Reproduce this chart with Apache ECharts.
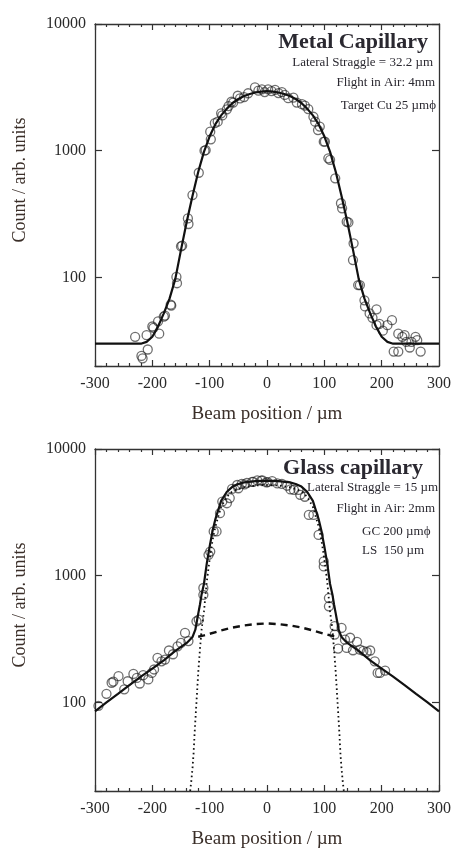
<!DOCTYPE html>
<html>
<head>
<meta charset="utf-8">
<script src="https://cdn.jsdelivr.net/npm/echarts@6/dist/echarts.min.js"></script>
<style>
html, body { margin: 0; padding: 0; background: #fff; }
#chart { width: 454px; height: 850px; }
</style>
</head>
<body>
<div id="chart"></div>
<script>
// ---- Metal capillary (top panel) ----
var metalX = [-230,-219,-217,-210,-208,-200,-198,-190,-188,-180,-178,-168,-167,-158,-157,-150,-148,-138,-137,-130,-119,-109,-107,-99,-98,-91,-86,-80,-78,-70,-67,-62,-59,-51,-47,-40,-33,-21,-15,-9,-4,2,8,14,20,26,31,37,46,52,61,66,72,81,84,89,92,99,101,107,110,119,129,131,139,142,150,151,159,162,170,171,179,184,191,191,196,202,210,218,221,229,229,236,240,243,249,252,259,262,268];
var metalY = [34,24,23,35,27,41,40,45,36,49,50,61,60,101,90,176,178,292,264,447,670,1000,1010,1413,1230,1650,1695,1973,1900,2122,2250,2435,2400,2716,2588,2650,2840,3165,2977,3050,2900,3050,2950,3020,2850,2900,2754,2600,2620,2400,2330,2270,2130,1853,1695,1455,1550,1178,1178,871,846,605,385,351,275,272,137,186,87,87,66,59,52,48,56,42,43,38,42,46,26,26,36,34,35,31,28,31,34,32,26];
var metalFitX = [-300,-220,-210,-200,-190,-180,-170,-160,-150,-140,-130,-120,-110,-100,-90,-80,-70,-60,-50,-40,-30,-20,-10,0,10,20,30,40,50,60,70,80,90,100,110,120,130,140,150,160,170,180,190,200,210,220,300];
var metalFitY = [30,30,31,34,41,52,68,97,165,275,440,680,980,1300,1620,1900,2150,2380,2560,2700,2800,2880,2930,2950,2930,2880,2800,2700,2560,2380,2150,1900,1620,1300,980,680,440,275,165,97,68,52,41,34,31,30,30];

// ---- Glass capillary (bottom panel) ----
var glassX = [-294,-280,-271,-268,-259,-249,-243,-233,-227,-222,-216,-207,-201,-197,-191,-184,-178,-171,-164,-156,-150,-143,-137,-123,-119,-111,-111,-102,-99,-93,-88,-82,-78,-70,-65,-61,-52,-50,-44,-39,-35,-26,-24,-17,-10,-8,-1,1,9,18,26,35,41,47,55,58,66,73,81,90,99,99,108,108,118,118,124,130,136,139,145,150,157,162,168,174,180,188,193,197,206];
var glassY = [94,117,143,146,161,127,147,168,156,141,164,152,171,182,225,211,218,257,240,277,295,354,305,437,450,706,800,1463,1550,2235,2235,3118,3850,3733,4100,4840,5200,4900,5300,5250,5400,5500,5500,5650,5620,5650,5450,5480,5580,5350,5300,5130,4800,4750,4750,4350,4200,3020,3020,2100,1297,1183,666,573,400,343,266,387,313,269,324,258,300,261,255,250,257,211,171,171,178];
var glassFitX = [-300,-280,-260,-240,-220,-200,-180,-160,-140,-130,-125,-122,-120,-117,-114,-110,-105,-100,-95,-90,-80,-70,-60,-50,-40,-20,0,20,40,50,60,70,80,90,95,100,105,110,114,117,120,122,125,130,140,160,180,200,220,240,260,280,300];
var glassFitY = [85,100,117,137,160,185,215,255,295,328,375,445,500,590,715,860,1250,1700,2250,2800,3900,4600,5050,5300,5450,5580,5620,5580,5450,5300,5050,4600,3900,2800,2250,1700,1250,860,715,590,500,445,375,328,295,255,215,185,160,137,117,100,85];
var glassNarrowX = [-134,-132,-130,-128,-126,-124,-122,-120,-117,-114,-110,-105,-100,-95,-90,-80,-70,-60,-40,-20,0,20,40,60,70,80,90,95,100,105,110,114,117,120,122,124,126,128,130,132,134];
var glassNarrowY = [20,24,30,40,60,85,120,170,260,380,520,900,1350,1900,2450,3500,4200,4650,5000,5150,5200,5150,5000,4650,4200,3500,2450,1900,1350,900,520,380,260,170,120,85,60,40,30,24,20];
var glassBroadX = [-120,-110,-100,-80,-60,-40,-20,0,20,40,60,80,100,110,120];
var glassBroadY = [330,338,348,370,390,405,415,420,415,405,390,370,348,338,330];

var yTickLabels = [100, 1000, 10000];

function zip(xs, ys) {
    return xs.map(function (x, i) { return [x, ys[i]]; });
}

var serif = "'Liberation Serif', 'DejaVu Serif', serif";
var inkColor = '#2a2a2a';
var titleColor = '#3a2e28';
var frameColor = '#333';

function xAxisFor(grid, pos) {
    var bottom = pos === 'bottom';
    return {
        type: 'value', gridIndex: grid, position: pos,
        min: -300, max: 300, interval: 100,
        name: bottom ? 'Beam position / \u00b5m' : '',
        nameLocation: 'middle', nameGap: 39,
        nameTextStyle: { fontFamily: serif, fontSize: 19, color: titleColor },
        axisLine: { show: true, onZero: false, lineStyle: { color: frameColor, width: 1.3 } },
        axisTick: { show: true, inside: true, length: 6, lineStyle: { color: frameColor, width: 1.2 } },
        minorTick: { show: true, splitNumber: 5, length: 3, lineStyle: { color: frameColor, width: 1.2 } },
        axisLabel: { show: bottom, margin: 10, fontFamily: serif, fontSize: 16, color: inkColor },
        splitLine: { show: false }
    };
}

function yAxisFor(grid, pos) {
    var left = pos === 'left';
    return {
        type: 'log', logBase: 10, gridIndex: grid, position: pos,
        min: 20, max: 10000,
        axisLine: { show: true, onZero: false, lineStyle: { color: frameColor, width: 1.3 } },
        axisTick: { show: true, inside: true, length: 7, lineStyle: { color: frameColor, width: 1.2 } },
        minorTick: { show: false },
        axisLabel: {
            show: left, margin: 9, fontFamily: serif, fontSize: 16, color: inkColor,
            formatter: function (v) {
                var r = Math.round(v);
                return yTickLabels.indexOf(r) >= 0 ? String(r) : '';
            }
        },
        splitLine: { show: false }
    };
}

function scatterSeries(xi, yi, data) {
    return {
        type: 'scatter', xAxisIndex: xi, yAxisIndex: yi, data: data,
        symbol: 'circle', symbolSize: 9, silent: true,
        itemStyle: { color: 'rgba(0,0,0,0)', borderColor: 'rgba(30,30,30,0.8)', borderWidth: 1.3 },
        z: 2
    };
}

function lineSeries(xi, yi, data, width, type) {
    return {
        type: 'line', xAxisIndex: xi, yAxisIndex: yi, data: data,
        showSymbol: false, smooth: false, silent: true,
        lineStyle: { color: '#111', width: width, type: type },
        z: 3
    };
}

function label(x, y, text, size, bold, align) {
    return {
        type: 'text', x: x, y: y, silent: true,
        style: {
            text: text, fill: '#2a2830',
            font: (bold ? 'bold ' : '') + size + 'px ' + serif,
            textAlign: align || 'right', textVerticalAlign: 'middle',
            align: align || 'right', verticalAlign: 'middle'
        }
    };
}

function yName(x, y) {
    return {
        type: 'text', x: x, y: y, rotation: Math.PI / 2, silent: true,
        style: {
            text: 'Count / arb. units', fill: titleColor,
            font: '18px ' + serif,
            textAlign: 'center', textVerticalAlign: 'middle',
            align: 'center', verticalAlign: 'middle'
        }
    };
}

var chart = echarts.init(document.getElementById('chart'), null, { renderer: 'canvas' });

chart.setOption({
    animation: false,
    backgroundColor: '#fff',
    grid: [
        { left: 95, top: 24, width: 344, height: 342 },
        { left: 95, top: 449, width: 344, height: 344 }
    ],
    xAxis: [xAxisFor(0, 'bottom'), xAxisFor(0, 'top'), xAxisFor(1, 'bottom'), xAxisFor(1, 'top')],
    yAxis: [yAxisFor(0, 'left'), yAxisFor(0, 'right'), yAxisFor(1, 'left'), yAxisFor(1, 'right')],
    series: [
        scatterSeries(0, 0, zip(metalX, metalY)),
        lineSeries(0, 0, zip(metalFitX, metalFitY), 2.2, 'solid'),
        scatterSeries(2, 2, zip(glassX, glassY)),
        lineSeries(2, 2, zip(glassBroadX, glassBroadY), 2.4, [7, 5]),
        lineSeries(2, 2, zip(glassNarrowX, glassNarrowY), 1.8, [1.6, 3]),
        lineSeries(2, 2, zip(glassFitX, glassFitY), 2.2, 'solid')
    ],
    graphic: [
        yName(20, 180),
        yName(20, 605),
        label(428, 42, 'Metal Capillary', 22, true),
        label(433, 63, 'Lateral Straggle = 32.2 \u00b5m', 13),
        label(435, 83, 'Flight in Air: 4mm', 13),
        label(436, 106, 'Target Cu 25 \u00b5m\u03d5', 13),
        label(423, 468, 'Glass capillary', 22, true),
        label(438, 488, 'Lateral Straggle = 15 \u00b5m', 13),
        label(435, 509, 'Flight in Air: 2mm', 13),
        label(362, 532, 'GC 200 \u00b5m\u03d5', 13, false, 'left'),
        label(362, 551, 'LS  150 \u00b5m', 13, false, 'left')
    ]
});
</script>
</body>
</html>
